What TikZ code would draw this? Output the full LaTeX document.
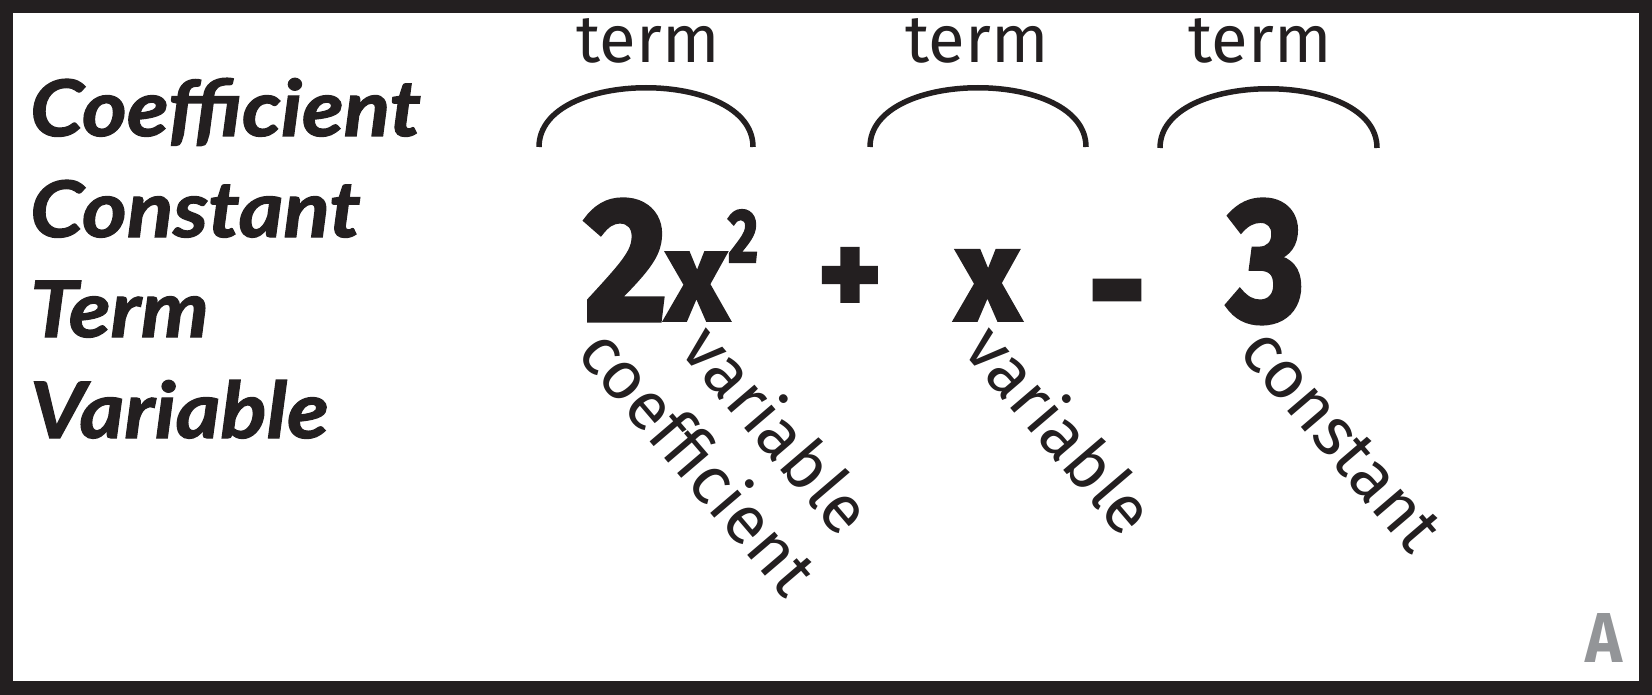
\documentclass[tikz,border=0pt]{standalone}
\usepackage{fontspec}
\usepackage{graphicx}
\setmainfont{Fira Sans}
\newfontfamily\lblfont{Lato}[BoldItalicFeatures={FakeBold=1.5}]
\newfontfamily\eqfont{Fira Sans Bold}[FakeBold=3]
\definecolor{ink}{HTML}{231F20}
\definecolor{agray}{HTML}{939598}
\tikzset{
  lbl/.style={font=\lblfont\fontsize{78}{78}\selectfont\bfseries\itshape, inner sep=0pt, anchor=base west, text=ink},
  termlbl/.style={font=\fontsize{67}{67}\selectfont, inner sep=0pt, anchor=base, text=ink},
  rotlbl/.style={font=\fontsize{68}{68}\selectfont, inner sep=0pt, anchor=center, text=ink, rotate=-49.5},
  eq/.style={font=\eqfont, inner sep=0pt, anchor=base, text=ink},
  arcline/.style={draw=ink, line width=5.5pt}
}
\begin{document}
\begin{tikzpicture}[x=1pt,y=-1pt]
\useasboundingbox (0,0) rectangle (1652,695);
\fill[ink] (0,0) rectangle (1652,695);
\fill[white] (13,13) rectangle (1639,681);
% left word list
\node[lbl] (coef) at (30,136) {\scalebox{1.1}[1]{Coefficient}};
\node[lbl] (const) at (30,237) {\scalebox{1.1}[1]{Constant}};
\node[lbl] (term) at (30,337) {\scalebox{1.1}[1]{Term}};
\node[lbl] (var) at (30,438) {\scalebox{1.1}[1]{Variable}};
% term labels
\node[termlbl] (t1) at (648,63) {term};
\node[termlbl] (t2) at (977,63) {term};
\node[termlbl] (t3) at (1260,63) {term};
% arcs
\draw[arcline] (539,147) .. controls (539,68) and (753,68) .. (753,147);
\draw[arcline] (870,147) .. controls (870,68) and (1086,68) .. (1086,147);
\draw[arcline] (1160,148) .. controls (1160,69) and (1377,69) .. (1377,148);
% equation
\node[eq] (two) at (626,320) {\resizebox{82pt}{120pt}{2}};
\node[eq] (x1) at (697,320) {\resizebox{61pt}{67pt}{x}};
\node[eq] (sq) at (743,262) {\resizebox{30pt}{52pt}{2}};
\node[eq] (plus) at (850,315) {\resizebox{64pt}{!}{+}};
\node[eq] (x2) at (988,320) {\resizebox{63pt}{69pt}{x}};
\node[eq] (minus) at (1117,337) {\scalebox{1.4}[1.5]{\fontsize{100}{100}\selectfont -}};
\node[eq] (three) at (1266,320) {\resizebox{76pt}{120pt}{3}};
% rotated labels
\node[rotlbl] (lcoef) at (700,460) {coefficient};
\node[rotlbl] (lvar1) at (779,428) {variable};
\node[rotlbl] (lvar2) at (1062,428) {variable};
\node[rotlbl] (lconst) at (1341,440) {constant};
% corner mark
\node[inner sep=0pt, anchor=base, text=agray, font=\bfseries] (amark) at (1604,662) {\resizebox{37pt}{49pt}{A}};
\end{tikzpicture}
\end{document}
